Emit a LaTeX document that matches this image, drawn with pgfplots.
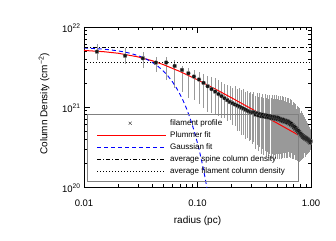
\documentclass[border=0pt]{standalone}
\usepackage{fontspec}
\setmainfont{Liberation Sans}
\usepackage{pgfplots}
\usepackage{pgfplotstable}
\pgfplotsset{compat=1.18}
\pgfplotsset{
  xlegend/.style={legend image code/.code={\path (0pt,0pt) (76pt,0pt); \draw[##1] plot coordinates {(41.5pt,0pt)};}},
  blank/.style={legend image code/.code={\path (0pt,0pt) (76pt,0pt);}},
}
% r (pc), log10 N (cm^-2), upper and lower error (dex)
\pgfplotstableread{
r n ep em
0.013 21.691 0.096 0.104
0.023 21.640 0.098 0.103
0.033 21.610 0.078 0.123
0.043 21.554 0.071 0.116
0.053 21.556 0.069 0.219
0.063 21.513 0.075 0.275
0.073 21.463 0.050 0.275
0.083 21.422 0.065 0.310
0.093 21.381 0.081 0.294
0.103 21.344 0.094 0.306
0.113 21.302 0.110 0.315
0.123 21.260 0.128 0.323
0.133 21.224 0.151 0.299
0.143 21.192 0.170 0.293
0.153 21.162 0.175 0.275
0.163 21.136 0.176 0.274
0.173 21.110 0.178 0.248
0.183 21.086 0.189 0.261
0.193 21.063 0.200 0.225
0.203 21.048 0.190 0.273
0.213 21.033 0.230 0.270
0.223 21.019 0.206 0.319
0.233 21.005 0.233 0.305
0.243 20.991 0.221 0.341
0.253 20.980 0.245 0.330
0.263 20.967 0.220 0.368
0.273 20.956 0.244 0.344
0.283 20.945 0.230 0.370
0.293 20.936 0.251 0.349
0.303 20.930 0.233 0.393
0.313 20.936 0.251 0.374
0.323 20.905 0.233 0.430
0.333 20.924 0.250 0.400
0.343 20.894 0.231 0.444
0.353 20.913 0.261 0.414
0.363 20.885 0.240 0.473
0.373 20.906 0.256 0.431
0.383 20.879 0.234 0.479
0.393 20.900 0.263 0.450
0.403 20.873 0.240 0.498
0.413 20.893 0.256 0.456
0.423 20.867 0.234 0.504
0.433 20.888 0.261 0.476
0.443 20.860 0.253 0.510
0.453 20.882 0.268 0.470
0.463 20.855 0.245 0.505
0.473 20.877 0.273 0.478
0.483 20.850 0.250 0.500
0.493 20.872 0.278 0.461
0.503 20.845 0.255 0.495
0.513 20.867 0.270 0.455
0.523 20.840 0.248 0.490
0.533 20.856 0.281 0.444
0.543 20.828 0.260 0.478
0.553 20.848 0.289 0.424
0.563 20.820 0.255 0.458
0.573 20.842 0.283 0.418
0.583 20.814 0.261 0.451
0.593 20.834 0.290 0.410
0.603 20.807 0.256 0.444
0.613 20.828 0.284 0.391
0.623 20.800 0.263 0.438
0.633 20.821 0.291 0.384
0.643 20.789 0.261 0.414
0.653 20.807 0.293 0.370
0.663 20.775 0.263 0.413
0.673 20.793 0.294 0.369
0.683 20.762 0.264 0.411
0.693 20.774 0.288 0.363
0.703 20.743 0.258 0.393
0.713 20.758 0.291 0.359
0.723 20.725 0.263 0.388
0.733 20.742 0.295 0.343
0.743 20.709 0.266 0.371
0.753 20.724 0.288 0.338
0.763 20.693 0.270 0.368
0.773 20.707 0.293 0.333
0.783 20.674 0.276 0.361
0.793 20.689 0.298 0.315
0.803 20.655 0.270 0.330
0.813 20.671 0.279 0.284
0.823 20.638 0.250 0.300
0.833 20.654 0.270 0.255
0.843 20.622 0.241 0.271
0.853 20.641 0.259 0.229
0.863 20.612 0.226 0.249
0.873 20.631 0.244 0.206
0.883 20.602 0.211 0.226
0.893 20.622 0.228 0.185
0.903 20.593 0.195 0.193
0.913 20.613 0.211 0.164
0.923 20.585 0.178 0.173
0.933 20.604 0.195 0.143
0.943 20.576 0.161 0.151
0.953 20.593 0.181 0.119
0.963 20.563 0.150 0.125
0.973 20.582 0.168 0.108
0.983 20.552 0.136 0.089
0.993 20.573 0.154 0.071
}\profile
\begin{document}
\begin{tikzpicture}
\useasboundingbox (-84pt,-53pt) rectangle (252pt,187pt);
\begin{axis}[
  at={(0pt,0pt)}, anchor=south west,
  width=227pt, height=160pt, scale only axis,
  xmode=log, xmin=0.01, xmax=1,
  ymin=20, ymax=22,
  xtick={0.01,0.1,1}, xticklabels={0.01,0.10,1.00},
  ytick={20,21,22},
  yticklabels={10\textsuperscript{20},10\textsuperscript{21},10\textsuperscript{22}},
  minor ytick={20.301,20.477,20.602,20.699,20.778,20.845,20.903,20.954,21.301,21.477,21.602,21.699,21.778,21.845,21.903,21.954},
  axis line style={line width=0.8pt},
  every tick/.style={black, line width=0.6pt},
  major tick length=6pt, minor tick length=3.5pt,
  tick label style={font=\fontsize{9.5}{11}\selectfont},
  xticklabel style={anchor=center, yshift=-16pt},
  yticklabel style={yshift=-1.5pt},
  xlabel={radius (pc)},
  ylabel={Column Density (cm\textsuperscript{−2})},
  label style={font=\fontsize{11.5}{13}\selectfont},
  every axis x label/.style={at={(axis description cs:0.5,-0.2125)}, anchor=center},
  every axis y label/.style={at={(axis description cs:-0.176,0.52)}, anchor=center, rotate=90},
  legend cell align=left,
  legend style={at={(rel axis cs:0.0132,0.456)}, anchor=north west,
    draw=none, fill=none, inner xsep=1pt, inner ysep=3pt,
    font=\fontsize{8}{9}\selectfont, row sep=0pt, column sep=3pt,
    nodes={inner sep=2pt, text height=6pt, text depth=2pt}},
]
\addplot[draw=black!40, only marks, mark=none, forget plot,
  error bars/.cd, y dir=both, y explicit, error mark=none,
  error bar style={draw=black!40, line width=0.5pt}]
  table[x=r, y=n, y error plus=ep, y error minus=em] {\profile};
\addplot[draw=black!85, only marks, mark=x, mark size=2.2pt, line width=0.35pt, xlegend]
  table[x=r, y=n] {\profile};
\addlegendentry{filament profile}
\addplot[draw=red, line width=1pt, blank] coordinates {
(0.01,21.707) (0.015,21.691) (0.02,21.672) (0.03,21.626) (0.04,21.578)
(0.05,21.530) (0.07,21.444) (0.1,21.340) (0.15,21.210) (0.2,21.114)
(0.3,20.976) (0.5,20.800) (0.7,20.684) (1.0,20.560)};
\addlegendentry{Plummer fit}
\addplot[draw=blue, line width=0.9pt, dash pattern=on 4pt off 3pt, blank] coordinates {
(0.01,21.738) (0.015,21.723) (0.02,21.702) (0.025,21.675) (0.03,21.642)
(0.035,21.603) (0.04,21.558) (0.045,21.507) (0.05,21.450) (0.055,21.386)
(0.06,21.317) (0.065,21.242) (0.07,21.161) (0.075,21.074) (0.08,20.981)
(0.085,20.882) (0.09,20.776) (0.095,20.665) (0.1,20.548) (0.105,20.425)
(0.11,20.296) (0.115,20.160) (0.12,20.019) (0.125,19.872) (0.13,19.719)};
\addlegendentry{Gaussian fit}
\addplot[draw=black, line width=0.6pt, dash pattern=on 4pt off 2pt on 1pt off 2pt, blank] coordinates {(0.01,21.746) (1,21.746)};
\addlegendentry{average spine column density}
\addplot[draw=black, line width=0.6pt, dash pattern=on 1pt off 2pt, blank] coordinates {(0.01,21.555) (1,21.555)};
\addlegendentry{average filament column density}
% legend frame and line samples
\draw[gray, line width=0.8pt] (rel axis cs:0.0132,0.456) rectangle (rel axis cs:0.9427,0.0375);
\draw[red, line width=1pt] (rel axis cs:0.0573,0.325) -- (rel axis cs:0.3612,0.325);
\draw[blue, line width=0.9pt, dash pattern=on 4pt off 3pt] (rel axis cs:0.0573,0.25) -- (rel axis cs:0.3612,0.25);
\draw[black, line width=0.6pt, dash pattern=on 4pt off 2pt on 1pt off 2pt] (rel axis cs:0.0573,0.175) -- (rel axis cs:0.3612,0.175);
\draw[black, line width=0.6pt, dash pattern=on 1pt off 2pt] (rel axis cs:0.0573,0.1) -- (rel axis cs:0.3612,0.1);
\end{axis}
\end{tikzpicture}
\end{document}
